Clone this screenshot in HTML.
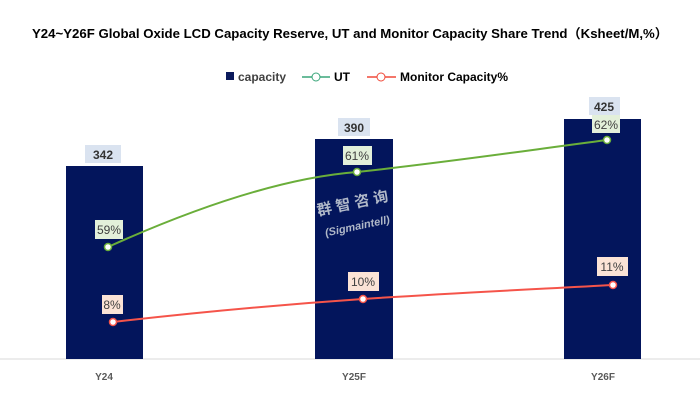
<!DOCTYPE html>
<html><head><meta charset="utf-8"><style>
body{margin:0;background:#fff;width:700px;height:401px;overflow:hidden}
svg text{font-family:"Liberation Sans","Noto Sans CJK SC",sans-serif}
</style></head><body>
<svg width="700" height="401" viewBox="0 0 700 401">
<text x="350" y="38" text-anchor="middle" font-size="13" font-weight="bold" fill="#000" textLength="636" lengthAdjust="spacingAndGlyphs">Y24~Y26F Global Oxide LCD Capacity Reserve, UT and Monitor Capacity Share Trend（Ksheet/M,%）</text>
<rect x="226" y="72" width="8" height="8" fill="#0b1a5c"/>
<text x="238" y="81" font-size="12" font-weight="bold" fill="#404040">capacity</text>
<line x1="302" y1="77" x2="330" y2="77" stroke="#3aa67a" stroke-width="1.5"/><circle cx="316" cy="77" r="4" fill="#fff" stroke="#3aa67a"/>
<text x="334" y="81" font-size="12" font-weight="bold" fill="#000">UT</text>
<line x1="367" y1="77" x2="396" y2="77" stroke="#f04a3a" stroke-width="1.5"/><circle cx="381" cy="77" r="4" fill="#fff" stroke="#f04a3a"/>
<text x="400" y="81" font-size="12" font-weight="bold" fill="#000">Monitor Capacity%</text>
<line x1="0" y1="359" x2="700" y2="359" stroke="#d9d9d9"/>
<rect x="66" y="166" width="77" height="193" fill="#03155c"/>
<rect x="315" y="139" width="78" height="220" fill="#03155c"/>
<rect x="564" y="119" width="77" height="240" fill="#03155c"/>
<g font-size="12" font-weight="bold" fill="#333" text-anchor="middle">
<rect x="85" y="145" width="36" height="18" fill="#dae3f0"/><text x="103" y="159">342</text>
<rect x="338" y="118" width="32" height="18" fill="#dae3f0"/><text x="354" y="132">390</text>
<rect x="589" y="97" width="31" height="18" fill="#dae3f0"/><text x="604" y="111">425</text>
</g>
<g font-weight="bold" transform="rotate(-12 355 215)">
<text x="355" y="208" text-anchor="middle" font-size="15" fill="#b0b8c8">群 智 咨 询</text>
<text x="355" y="230" text-anchor="middle" font-size="11" fill="#b0b8c8" font-style="italic">(Sigmaintell)</text>
</g>
<path d="M108,247 C190,210 280,178 357,172 C450,162 530,150 607,140" fill="none" stroke="#6aae3a" stroke-width="2"/>
<path d="M113,322 C200,312 290,304 363,299 C450,293 540,289 613,285" fill="none" stroke="#f5544a" stroke-width="2"/>
<g fill="#fff" stroke-width="1.5">
<circle cx="108" cy="247" r="3.5" stroke="#6aae3a"/><circle cx="357" cy="172" r="3.5" stroke="#6aae3a"/><circle cx="607" cy="140" r="3.5" stroke="#6aae3a"/>
<circle cx="113" cy="322" r="3.5" stroke="#f5544a"/><circle cx="363" cy="299" r="3.5" stroke="#f5544a"/><circle cx="613" cy="285" r="3.5" stroke="#f5544a"/>
</g>
<g font-size="12" fill="#404040" text-anchor="middle">
<rect x="95" y="220" width="28" height="19" fill="#e3f0da"/><text x="109" y="234">59%</text>
<rect x="343" y="146" width="29" height="19" fill="#e3f0da"/><text x="357" y="160">61%</text>
<rect x="592" y="115" width="28" height="18" fill="#e3f0da"/><text x="606" y="129">62%</text>
<rect x="102" y="295" width="21" height="19" fill="#fbe3d6"/><text x="112" y="309">8%</text>
<rect x="348" y="272" width="31" height="19" fill="#fbe3d6"/><text x="363" y="286">10%</text>
<rect x="597" y="257" width="31" height="19" fill="#fbe3d6"/><text x="612" y="271">11%</text>
</g>
<g font-size="10" font-weight="bold" fill="#595959" text-anchor="middle">
<text x="104" y="380">Y24</text><text x="354" y="380">Y25F</text><text x="603" y="380">Y26F</text>
</g>
</svg>
</body></html>
